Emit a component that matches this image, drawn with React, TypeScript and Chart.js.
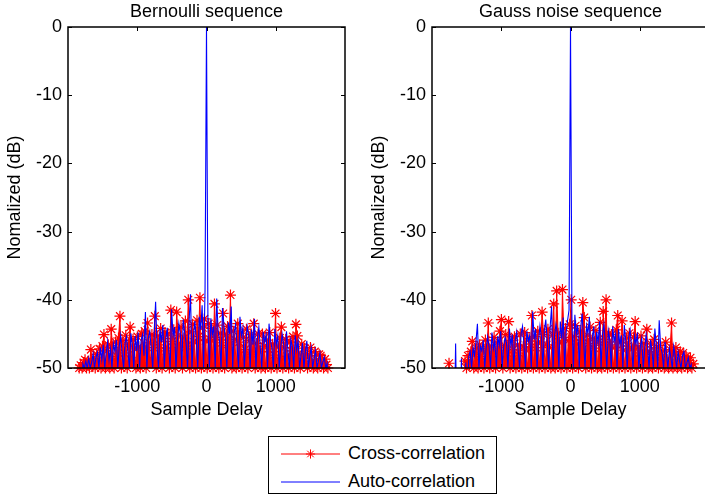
import React, { useEffect, useRef } from "react";
import { Chart, registerables } from "chart.js";

Chart.register(...registerables);

// ---- data (values in dB; -60 = below the -50 dB floor) ----
const AUTO_LAG_START = -1848; // first lag of the auto-correlation samples
const CROSS_LAG_START = -1838; // first lag of the cross-correlation samples
const LAG_STEP = 21;

const xTickValues = [-1000, 0, 1000];
const yMin = -50;
const yMax = 0;
const yStep = 10;

const panelTitles = ["Bernoulli sequence", "Gauss noise sequence"];
const seriesLabels = ["Cross-correlation", "Auto-correlation"];

const bernoulliCross = [
  -50, -49.6, -50, -49.2, -48.8, -50, -49.0, -50, -47.3, -49.5,
  -48.6, -50, -48.0, -49.4, -47.2, -50, -46.8, -45.1, -50, -47.5,
  -46.6, -50, -44.3, -47.0, -50, -46.2, -48.3, -45.6, -42.4, -50,
  -46.0, -47.8, -45.2, -50, -46.5, -44.0, -49.0, -45.8, -47.2, -50,
  -45.4, -46.9, -50, -45.0, -47.4, -44.6, -50, -43.4, -46.3, -49.2,
  -45.1, -47.0, -42.4, -50, -45.3, -46.6, -44.2, -50, -45.7, -44.8,
  -47.5, -45.0, -50, -41.5, -46.1, -44.4, -50, -41.8, -45.2, -47.0,
  -44.0, -50, -45.6, -43.1, -46.8, -40.0, -50, -44.7, -43.6, -46.2,
  -50, -43.0, -45.4, -39.7, -50, -44.1, -42.8, -46.0, -50, -43.5,
  -45.8, -44.2, -50, -40.6, -45.5, -43.7, -50, -44.9, -46.3, -42.0,
  -50, -45.1, -43.9, -47.0, -39.3, -50, -44.6, -45.8, -50, -43.5,
  -46.2, -44.9, -50, -45.5, -47.3, -44.3, -50, -46.0, -45.1, -48.0,
  -43.5, -50, -46.4, -45.0, -47.6, -50, -45.0, -46.8, -50, -45.9,
  -47.2, -44.8, -50, -46.5, -48.1, -42.0, -50, -46.9, -45.6, -44.0,
  -50, -47.0, -45.8, -48.3, -50, -46.2, -47.5, -45.4, -50, -43.6,
  -45.3, -47.8, -50, -46.5, -48.6, -47.1, -47.9, -50, -48.2, -47.0,
  -49.0, -50, -47.6, -48.8, -50, -48.0, -48.2, -49.3, -50, -48.7,
  -49.5, -50, -60, -60, -60,
];

const bernoulliAuto = [
  -60, -60, -60, -49.4, -50, -49.0, -50, -48.6, -50, -49.2,
  -47.9, -50, -48.4, -47.7, -50, -47.0, -48.8, -46.6, -50, -47.8,
  -46.1, -48.9, -47.2, -50, -46.4, -47.6, -45.9, -50, -46.8, -45.2,
  -48.0, -50, -46.3, -45.4, -47.7, -50, -44.9, -46.6, -50, -45.3,
  -47.5, -44.8, -50, -46.0, -45.1, -48.2, -41.8, -50, -45.6, -44.6,
  -47.1, -50, -45.2, -40.3, -46.9, -50, -44.3, -46.2, -43.7, -50,
  -45.8, -44.1, -47.3, -50, -41.4, -45.3, -44.0, -50, -46.1, -43.5,
  -45.0, -50, -42.9, -44.8, -46.4, -50, -43.2, -39.2, -50, -45.4,
  -43.1, -46.0, -50, -42.5, -44.4, -40.8, -50, -38.5, 0, -44.1,
  -50, -42.7, -45.2, -43.9, -50, -39.8, -44.6, -46.1, -50, -41.2,
  -43.8, -45.7, -50, -43.3, -45.0, -41.0, -50, -44.8, -43.6, -46.5,
  -50, -42.5, -45.3, -44.1, -50, -46.3, -43.9, -45.2, -50, -44.4,
  -46.6, -42.8, -50, -45.5, -44.0, -47.0, -50, -44.7, -46.2, -45.1,
  -50, -43.5, -45.9, -47.2, -50, -44.3, -46.6, -45.3, -50, -47.1,
  -45.0, -46.4, -50, -44.6, -47.5, -50, -45.8, -46.9, -50, -45.2,
  -47.4, -46.0, -50, -48.1, -46.3, -50, -47.6, -46.0, -50, -48.3,
  -47.0, -50, -48.6, -47.4, -50, -48.9, -47.8, -50, -49.1, -48.4,
  -50, -49.3, -60, -60, -60, -60, -60,
];

const gaussCross = [
  -60, -60, -60, -60, -49.3, -60, -60, -60, -60, -60,
  -60, -60, -60, -60, -60, -49.0, -50, -48.2, -49.5, -47.6,
  -46.1, -50, -48.0, -47.1, -50, -46.6, -48.3, -47.4, -50, -45.9,
  -47.2, -43.4, -50, -46.8, -47.9, -45.5, -50, -46.3, -47.5, -44.6,
  -42.9, -50, -46.7, -45.1, -47.8, -43.2, -50, -46.0, -47.3, -45.4,
  -50, -46.6, -47.8, -45.0, -50, -46.9, -44.8, -47.4, -50, -45.7,
  -46.5, -42.3, -50, -45.4, -47.0, -44.6, -50, -46.2, -41.8, -45.1,
  -50, -46.6, -44.3, -47.0, -50, -45.2, -40.6, -50, -38.7, -44.9,
  -46.3, -50, -38.5, -45.5, -44.2, -50, -46.0, -43.6, -40.0, -50,
  -45.4, -43.8, -46.5, -50, -44.7, -45.9, -40.4, -42.6, -50, -45.2,
  -46.4, -44.0, -50, -45.7, -47.1, -44.5, -50, -46.2, -43.3, -50,
  -41.7, -45.8, -40.0, -50, -44.9, -46.6, -45.1, -50, -47.0, -44.4,
  -42.3, -50, -46.2, -43.1, -47.4, -50, -45.6, -46.8, -44.9, -50,
  -47.2, -45.5, -43.2, -50, -46.9, -47.8, -45.3, -50, -46.4, -48.0,
  -44.3, -50, -47.6, -46.5, -50, -45.8, -48.1, -47.0, -50, -46.7,
  -48.4, -47.5, -50, -46.2, -48.7, -50, -47.3, -43.4, -50, -48.1,
  -47.0, -50, -48.8, -47.6, -50, -47.8, -49.0, -48.3, -50, -48.9,
  -48.5, -50, -49.4, -60, -60,
];

const gaussAuto = [
  -60, -60, -60, -60, -60, -60, -60, -60, -60, -46.4,
  -60, -60, -60, -48.6, -60, -60, -49.2, -60, -48.4, -47.6,
  -50, -47.0, -48.2, -46.1, -43.5, -50, -46.8, -47.5, -45.9, -50,
  -47.1, -45.4, -46.9, -50, -44.8, -47.2, -46.0, -50, -45.3, -46.7,
  -44.6, -50, -47.0, -45.5, -46.3, -50, -44.2, -46.8, -45.1, -50,
  -46.0, -44.7, -47.3, -50, -45.0, -43.9, -46.5, -50, -44.6, -46.1,
  -45.2, -50, -41.7, -45.8, -44.3, -50, -46.0, -43.8, -45.4, -50,
  -44.5, -42.9, -46.2, -50, -44.0, -41.0, -50, -45.3, -43.6, -44.9,
  -50, -43.2, -45.7, -42.6, -50, -44.8, -43.0, -41.5, 0, -43.4,
  -50, -42.2, -45.0, -43.7, -50, -44.1, -42.0, -46.0, -50, -43.8,
  -44.9, -42.5, -50, -45.6, -43.9, -50, -44.7, -46.3, -43.2, -50,
  -45.1, -43.6, -46.4, -50, -44.5, -45.8, -50, -43.9, -46.2, -45.0,
  -50, -44.3, -46.7, -45.2, -50, -43.7, -46.0, -50, -45.5, -44.4,
  -47.0, -50, -45.3, -46.5, -44.8, -50, -46.9, -45.6, -50, -47.3,
  -45.1, -46.8, -50, -45.9, -47.4, -50, -44.2, -46.6, -50, -43.0,
  -46.9, -47.8, -50, -46.2, -48.0, -50, -47.1, -48.5, -50, -46.8,
  -48.3, -50, -47.6, -49.0, -50, -48.2, -47.6, -50, -49.3, -48.5,
  -50, -49.5, -60, -60, -60, -60, -60,
];

// ---- styling ----
const FONT = '"Liberation Sans", Arial, Helvetica, sans-serif';
const FS = 18;
const RED = "#ff0000";
const BLUE = "#0000ff";

Chart.defaults.font.family = FONT;
Chart.defaults.font.size = FS;
Chart.defaults.color = "#000";

const matlabAxes = {
  id: "matlabAxes",
  afterDraw(chart: any) {
    const { ctx, chartArea } = chart;
    const { left, right, top, bottom } = chartArea;
    const xs = chart.scales.x;
    const ys = chart.scales.y;
    const tl = 4;
    ctx.save();
    ctx.strokeStyle = "#000";
    ctx.lineWidth = 1;
    ctx.beginPath();
    for (const t of xs.ticks) {
      const px = Math.round(xs.getPixelForValue(t.value)) + 0.5;
      ctx.moveTo(px, bottom);
      ctx.lineTo(px, bottom - tl);
      ctx.moveTo(px, top);
      ctx.lineTo(px, top + tl);
    }
    for (const t of ys.ticks) {
      const py = Math.round(ys.getPixelForValue(t.value)) + 0.5;
      ctx.moveTo(left, py);
      ctx.lineTo(left + tl, py);
      ctx.moveTo(right, py);
      ctx.lineTo(right - tl, py);
    }
    ctx.stroke();
    ctx.lineWidth = 1.5;
    ctx.strokeRect(left, top, right - left, bottom - top);
    ctx.restore();
  },
};

function makeConfig(title: string, cross: number[], auto: number[]): any {
  const autoPts = auto.map((v, i) => ({ x: AUTO_LAG_START + i * LAG_STEP, y: v }));
  const crossPts = cross.map((v, i) => ({ x: CROSS_LAG_START + i * LAG_STEP, y: v }));
  const crossMarks = crossPts.map((p) => ({ x: p.x, y: p.y >= yMin ? p.y : null }));
  return {
    type: "line",
    data: {
      datasets: [
        {
          label: seriesLabels[1],
          data: autoPts,
          borderColor: BLUE,
          borderWidth: 1.1,
          pointRadius: 0,
          order: 1,
        },
        {
          label: seriesLabels[0] + " markers",
          data: crossMarks,
          showLine: false,
          pointStyle: "star",
          pointRadius: 5.5,
          pointBorderColor: RED,
          pointBackgroundColor: RED,
          pointBorderWidth: 1.2,
          borderColor: RED,
          order: 2,
          clip: 8,
        },
        {
          label: seriesLabels[0],
          data: crossPts,
          borderColor: RED,
          backgroundColor: RED,
          borderWidth: 1,
          pointRadius: 0,
          fill: "start",
          order: 3,
        },
      ],
    },
    options: {
      animation: false,
      responsive: false,
      events: [],
      layout: { padding: { left: 0, right: 15, top: 0, bottom: 0 } },
      plugins: {
        legend: { display: false },
        tooltip: { enabled: false },
        filler: { propagate: false },
        title: {
          display: true,
          text: title,
          color: "#000",
          fullSize: false,
          font: { size: FS, weight: "normal", family: FONT, lineHeight: 1.2 },
          padding: { top: 1.5, bottom: 3.9 },
        },
      },
      scales: {
        x: {
          type: "linear",
          min: -2000,
          max: 2000,
          grid: { display: false, drawTicks: false },
          border: { display: false },
          afterBuildTicks: (s: any) => {
            s.ticks = xTickValues.map((v) => ({ value: v }));
          },
          afterFit: (s: any) => {
            s.height = 57;
          },
          ticks: {
            padding: 8,
            color: "#000",
            autoSkip: false,
            maxRotation: 0,
            font: { size: FS, family: FONT, lineHeight: 1.2 },
            callback: (v: any) => String(v),
          },
          title: {
            display: true,
            text: "Sample Delay",
            color: "#000",
            font: { size: FS, family: FONT, lineHeight: 1.2 },
            padding: { top: 0, bottom: 4 },
          },
        },
        y: {
          type: "linear",
          min: yMin,
          max: yMax,
          grid: { display: false, drawTicks: false },
          border: { display: false },
          afterFit: (s: any) => {
            s.width = 68;
          },
          ticks: {
            stepSize: yStep,
            padding: 6,
            color: "#000",
            font: { size: FS, family: FONT, lineHeight: 1.2 },
            callback: (v: any) => String(v),
          },
          title: {
            display: true,
            text: "Nomalized (dB)",
            color: "#000",
            font: { size: FS, family: FONT, lineHeight: 1.2 },
            padding: { top: 4, bottom: 0 },
          },
        },
      },
    },
    plugins: [matlabAxes],
  };
}

function Panel(props: { title: string; cross: number[]; auto: number[]; left: number }) {
  const ref = useRef<HTMLCanvasElement | null>(null);
  useEffect(() => {
    const chart = new Chart(ref.current as HTMLCanvasElement, makeConfig(props.title, props.cross, props.auto));
    return () => chart.destroy();
  }, []);
  return (
    <canvas
      ref={ref}
      width={360}
      height={425}
      style={{ position: "absolute", left: props.left, top: 0, width: 360, height: 425 }}
    />
  );
}

function Legend() {
  const rowStyle = (top: number): React.CSSProperties => ({
    position: "absolute",
    left: 79,
    top: top - 10.8,
    height: 21.6,
    lineHeight: "21.6px",
    fontSize: FS,
    whiteSpace: "nowrap",
    color: "#000",
  });
  const r = 4.6;
  const cx = 41.5;
  const cy = 17;
  const d = r * Math.SQRT1_2;
  return (
    <div
      style={{
        position: "absolute",
        left: 268,
        top: 436,
        width: 229,
        height: 58,
        boxSizing: "border-box",
        border: "1px solid #000",
        background: "#fff",
        fontFamily: FONT,
      }}
    >
      <svg width={80} height={56} style={{ position: "absolute", left: 0, top: 0 }}>
        <line x1={12} y1={cy} x2={71} y2={cy} stroke={RED} strokeWidth={1} />
        <g stroke={RED} strokeWidth={1}>
          <line x1={cx - r} y1={cy} x2={cx + r} y2={cy} />
          <line x1={cx} y1={cy - r} x2={cx} y2={cy + r} />
          <line x1={cx - d} y1={cy - d} x2={cx + d} y2={cy + d} />
          <line x1={cx - d} y1={cy + d} x2={cx + d} y2={cy - d} />
        </g>
        <line x1={12} y1={45} x2={71} y2={45} stroke={BLUE} strokeWidth={1} />
      </svg>
      <div style={rowStyle(17)}>{seriesLabels[0]}</div>
      <div style={rowStyle(45)}>{seriesLabels[1]}</div>
    </div>
  );
}

export default function App() {
  return (
    <div
      style={{
        position: "absolute",
        left: 0,
        top: 0,
        width: 705,
        height: 497,
        overflow: "hidden",
        background: "#fff",
        fontFamily: FONT,
      }}
    >
      <Panel title={panelTitles[0]} cross={bernoulliCross} auto={bernoulliAuto} left={0} />
      <Panel title={panelTitles[1]} cross={gaussCross} auto={gaussAuto} left={364} />
      <Legend />
    </div>
  );
}
